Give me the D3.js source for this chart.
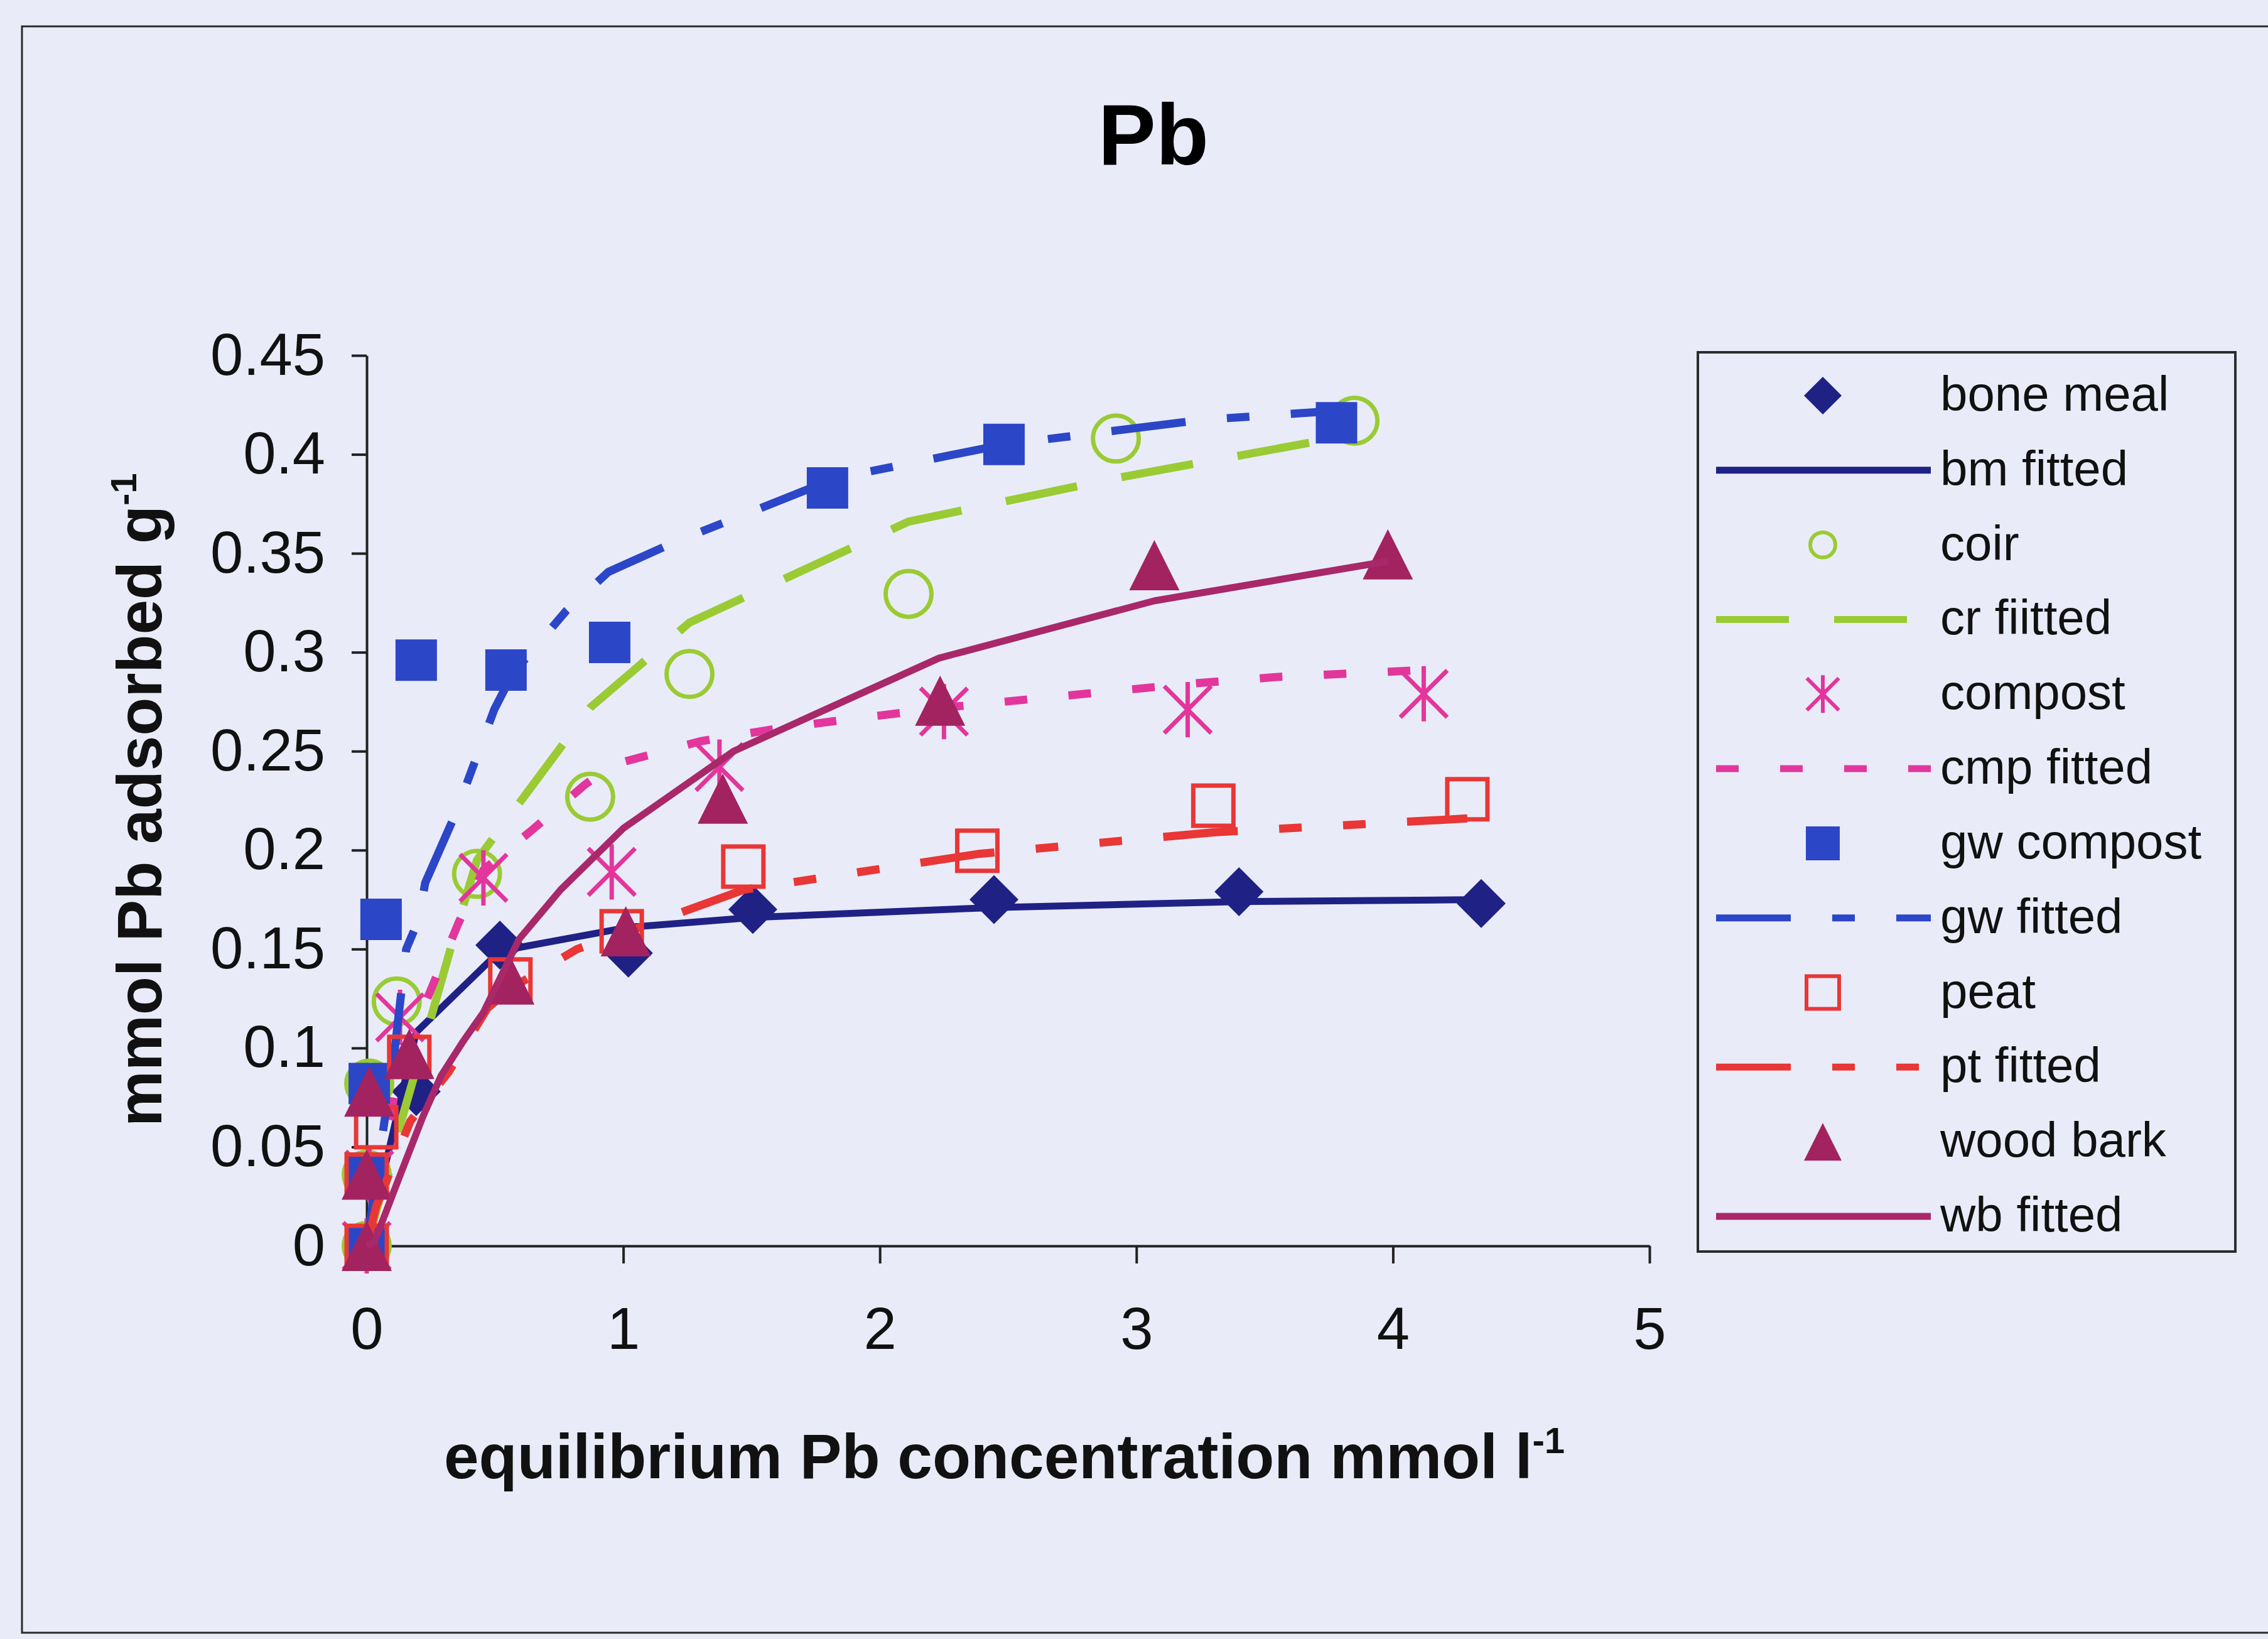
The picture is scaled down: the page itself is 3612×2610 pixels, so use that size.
<!DOCTYPE html>
<html>
<head>
<meta charset="utf-8">
<script src="https://cdn.jsdelivr.net/npm/d3@7"></script>
<style>
  html, body { margin: 0; padding: 0; background: #e9ecf8; }
  svg { display: block; }
</style>
</head>
<body>
<div id="chart"></div>
<script>
const [width, height] = [3612, 2610];

const xTickValues = [0, 1, 2, 3, 4, 5];
const yTickValues = [0, 0.05, 0.1, 0.15, 0.2, 0.25, 0.3, 0.35, 0.4, 0.45];

const boneMealX = [0, 0.005, 0.193, 0.519, 1.02, 1.505, 2.445, 3.4, 4.344];
const boneMealY = [0, 0.036, 0.078, 0.152, 0.148, 0.170, 0.175, 0.179, 0.173];
const coirX = [0, 0, 0.01, 0.117, 0.43, 0.871, 1.258, 2.112, 2.92, 3.85];
const coirY = [0, 0.036, 0.082, 0.1235, 0.188, 0.227, 0.289, 0.3295, 0.408, 0.417];
const compostX = [0, 0.01, 0.13, 0.455, 0.955, 1.375, 2.25, 3.2, 4.12];
const compostY = [0, 0.036, 0.1155, 0.186, 0.189, 0.242, 0.27, 0.271, 0.279];
const gwCompostX = [0, 0, 0.01, 0.056, 0.193, 0.543, 0.947, 1.796, 2.484, 3.78];
const gwCompostY = [0, 0.036, 0.082, 0.165, 0.296, 0.291, 0.305, 0.383, 0.405, 0.416];
const peatX = [0, 0, 0.037, 0.166, 0.56, 0.994, 1.468, 2.38, 3.3, 4.29];
const peatY = [0, 0.036, 0.06, 0.0955, 0.1346, 0.159, 0.1917, 0.1997, 0.2225, 0.2257];
const woodBarkX = [0, 0, 0.01, 0.166, 0.556, 1.01, 1.388, 2.235, 3.07, 3.98];
const woodBarkY = [0, 0.036, 0.078, 0.097, 0.1346, 0.159, 0.226, 0.2755, 0.344, 0.3495];

// fitted curves
const bmFittedX = [0, 0.193, 0.519, 1.02, 1.505, 2.445, 3.4, 4.344];
const bmFittedY = [0, 0.108, 0.149, 0.161, 0.166, 0.171, 0.174, 0.175];
const crFittedX = [0, 0.117, 0.252, 0.333, 0.43, 0.871, 1.258, 2.112, 2.92, 3.85];
const crFittedY = [0, 0.055, 0.116, 0.153, 0.195, 0.272, 0.315, 0.366, 0.388, 0.41];
const cmpFittedX = [0, 0.13, 0.26, 0.357, 0.455, 0.643, 0.85, 0.955, 1.3, 1.58, 1.81, 2.25, 2.8, 3.2, 3.56, 4.12];
const cmpFittedY = [0, 0.092, 0.1325, 0.163, 0.19, 0.21, 0.233, 0.243, 0.255, 0.261, 0.265, 0.272, 0.279, 0.284, 0.2876, 0.291];
const gwFittedX = [0, 0.11, 0.154, 0.203, 0.228, 0.345, 0.497, 0.568, 0.778, 0.942, 1.2, 1.83, 2.484, 3.26, 3.78];
const gwFittedY = [0, 0.1, 0.15, 0.165, 0.1835, 0.218, 0.271, 0.289, 0.321, 0.3406, 0.3556, 0.388, 0.405, 0.4175, 0.422];
const ptFittedX = [0, 0.037, 0.17, 0.32, 0.47, 0.56, 0.82, 1.0, 1.47, 2.38, 3.3, 4.29];
const ptFittedY = [0, 0.02, 0.063, 0.088, 0.12, 0.13, 0.15, 0.158, 0.18, 0.198, 0.209, 0.216];
const wbFittedX = [0, 0.03, 0.137, 0.218, 0.29, 0.374, 0.455, 0.594, 0.756, 1.0, 1.43, 2.23, 3.07, 3.98];
const wbFittedY = [0, 0.002, 0.038, 0.065, 0.086, 0.103, 0.118, 0.155, 0.18, 0.211, 0.25, 0.297, 0.326, 0.346];

const legendLabels = ['bone meal', 'bm fitted', 'coir', 'cr fiitted', 'compost', 'cmp fitted',
  'gw compost', 'gw fitted', 'peat', 'pt fitted', 'wood bark', 'wb fitted'];

const colorInfo = {
  navy: '#1f2185',
  green: '#9acb34',
  magenta: '#e2369c',
  blue: '#2c46c8',
  red: '#e93636',
  maroon: '#a2235f',
  wbLine: '#a8286a',
};

const zip = (xs, ys) => xs.map((v, i) => [v, ys[i]]);

const seriesList = [
  { label: legendLabels[0], type: 'marker', shape: 'diamond', color: colorInfo.navy, data: zip(boneMealX, boneMealY) },
  { label: legendLabels[1], type: 'line', dash: null, color: colorInfo.navy, data: zip(bmFittedX, bmFittedY) },
  { label: legendLabels[2], type: 'marker', shape: 'circle', color: colorInfo.green, data: zip(coirX, coirY) },
  { label: legendLabels[3], type: 'line', dash: '116 72', color: colorInfo.green, data: zip(crFittedX, crFittedY) },
  { label: legendLabels[4], type: 'marker', shape: 'asterisk', color: colorInfo.magenta, data: zip(compostX, compostY) },
  { label: legendLabels[5], type: 'line', dash: '36 66', color: colorInfo.magenta, data: zip(cmpFittedX, cmpFittedY) },
  { label: legendLabels[6], type: 'marker', shape: 'square', color: colorInfo.blue, data: zip(gwCompostX, gwCompostY) },
  { label: legendLabels[7], type: 'line', dash: '119 66 36 66', color: colorInfo.blue, data: zip(gwFittedX, gwFittedY) },
  { label: legendLabels[8], type: 'marker', shape: 'openSquare', color: colorInfo.red, data: zip(peatX, peatY) },
  { label: legendLabels[9], type: 'line', dash: '119 66 36 66 36 66', color: colorInfo.red, data: zip(ptFittedX, ptFittedY) },
  { label: legendLabels[10], type: 'marker', shape: 'triangle', color: colorInfo.maroon, data: zip(woodBarkX, woodBarkY) },
  { label: legendLabels[11], type: 'line', dash: null, color: colorInfo.wbLine, data: zip(wbFittedX, wbFittedY) },
];

const font = "'Liberation Sans', Arial, sans-serif";
const plotSize = { diamond: 78, circle: 80, asterisk: 88, square: 66, openSquare: 64, triangle: 80 };
const legendSize = { diamond: 60, circle: 46, asterisk: 60, square: 54, openSquare: 52, triangle: 60 };

function markerPath(shape, s) {
  const h = s / 2;
  switch (shape) {
    case 'diamond': return `M0,${-h}L${h},0L0,${h}L${-h},0Z`;
    case 'square':
    case 'openSquare': return `M${-h},${-h}H${h}V${h}H${-h}Z`;
    case 'triangle': return `M0,${-h}L${h},${h}L${-h},${h}Z`;
    case 'asterisk': return `M0,${-h}V${h}M${-h * 0.85},${-h * 0.85}L${h * 0.85},${h * 0.85}M${h * 0.85},${-h * 0.85}L${-h * 0.85},${h * 0.85}`;
    default: return '';
  }
}

function drawMarker(sel, shape, color, s, sw) {
  if (shape === 'circle') {
    sel.append('circle').attr('r', s / 2 - sw / 2)
      .attr('fill', 'none').attr('stroke', color).attr('stroke-width', sw);
    return;
  }
  const p = sel.append('path').attr('d', markerPath(shape, s));
  if (shape === 'asterisk' || shape === 'openSquare') {
    p.attr('fill', 'none').attr('stroke', color).attr('stroke-width', sw);
  } else {
    p.attr('fill', color);
  }
}

const svg = d3.select('#chart').append('svg')
  .attr('width', width)
  .attr('height', height);

svg.append('rect').attr('width', width).attr('height', height).attr('fill', '#e9ecf8');

// outer chart frame
svg.append('rect')
  .attr('x', 35).attr('y', 42)
  .attr('width', 3660).attr('height', 2558)
  .attr('fill', 'none').attr('stroke', '#2b2b2b').attr('stroke-width', 3);

const x = d3.scaleLinear().domain([0, 5]).range([584, 2627]);
const y = d3.scaleLinear().domain([0, 0.45]).range([1984, 566]);

svg.append('text')
  .attr('x', 1837).attr('y', 262)
  .attr('text-anchor', 'middle')
  .style('font-family', font).style('font-weight', 'bold').style('font-size', '138px')
  .text('Pb');

const yAxis = svg.append('g')
  .attr('transform', `translate(${x(0)},0)`)
  .call(d3.axisLeft(y).tickValues(yTickValues).tickSize(24).tickSizeOuter(0).tickPadding(42).tickFormat(d => String(d)));

const xAxis = svg.append('g')
  .attr('transform', `translate(0,${y(0)})`)
  .call(d3.axisBottom(x).tickValues(xTickValues).tickSize(28).tickSizeOuter(0).tickPadding(69).tickFormat(d => String(d)));

[yAxis, xAxis].forEach(ax => {
  ax.select('.domain').attr('stroke', '#222').attr('stroke-width', 4);
  ax.selectAll('.tick line').attr('stroke', '#222').attr('stroke-width', 4);
  ax.selectAll('.tick text')
    .attr('fill', '#111')
    .style('font-family', font).style('font-size', '94px');
});

const xTitle = svg.append('text')
  .attr('x', 707).attr('y', 2354)
  .style('font-family', font).style('font-weight', 'bold').style('font-size', '100px')
  .attr('fill', '#111');
xTitle.append('tspan').text('equilibrium Pb concentration mmol l');
xTitle.append('tspan').attr('dy', -40).style('font-size', '58px').text('-1');

const yTitle = svg.append('text')
  .attr('transform', 'translate(257,1794) rotate(-90)')
  .style('font-family', font).style('font-weight', 'bold').style('font-size', '100px')
  .attr('fill', '#111');
yTitle.append('tspan').text('mmol Pb adsorbed g');
yTitle.append('tspan').attr('dy', -40).style('font-size', '58px').text('-1');

const line = d3.line().x(d => x(d[0])).y(d => y(d[1]));
const plot = svg.append('g');

seriesList.forEach(s => {
  if (s.type === 'line') {
    plot.append('path')
      .datum(s.data)
      .attr('d', line)
      .attr('fill', 'none')
      .attr('stroke', s.color)
      .attr('stroke-width', s.dash ? 13 : 11)
      .attr('stroke-dasharray', s.dash)
      .attr('stroke-linejoin', 'round');
  } else {
    plot.selectAll(null)
      .data(s.data)
      .join('g')
      .attr('transform', d => `translate(${x(d[0])},${y(d[1])})`)
      .each(function () {
        drawMarker(d3.select(this), s.shape, s.color, plotSize[s.shape], s.shape === 'openSquare' ? 7 : 7);
      });
  }
});

// legend
const legend = svg.append('g');
legend.append('rect')
  .attr('x', 2704).attr('y', 561)
  .attr('width', 856).attr('height', 1432)
  .attr('fill', 'none').attr('stroke', '#2b2b2b').attr('stroke-width', 4);

const rowY = d3.scaleLinear().domain([0, legendLabels.length - 1]).range([630, 1937]);

seriesList.forEach((s, i) => {
  const row = legend.append('g').attr('transform', `translate(0,${rowY(i)})`);
  if (s.type === 'line') {
    row.append('line')
      .attr('x1', 2733).attr('x2', 3075)
      .attr('stroke', s.color).attr('stroke-width', 11)
      .attr('stroke-dasharray', s.dash);
  } else {
    const m = row.append('g').attr('transform', 'translate(2903,0)');
    drawMarker(m, s.shape, s.color, legendSize[s.shape], 6);
  }
  row.append('text')
    .attr('x', 3090).attr('y', 24)
    .attr('fill', '#111')
    .style('font-family', font).style('font-size', '78px')
    .text(s.label);
});
</script>
</body>
</html>
